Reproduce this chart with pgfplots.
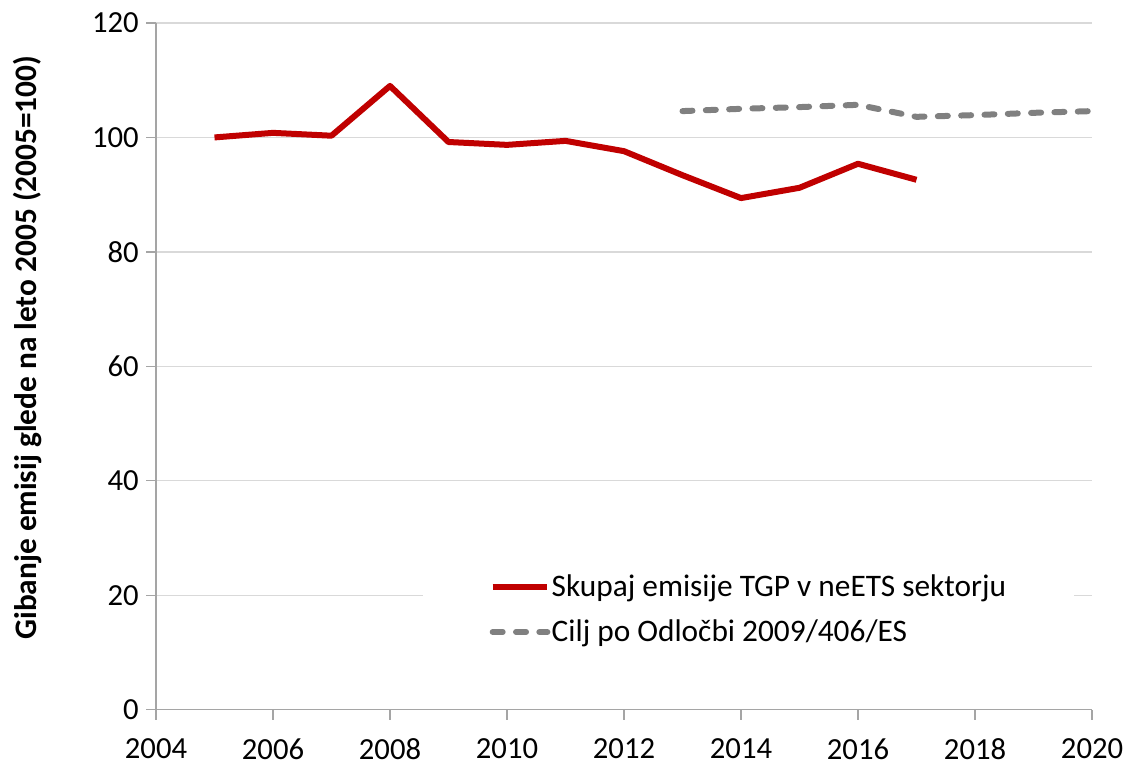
\documentclass[border=0pt]{standalone}
\usepackage{pgfplots}
\pgfplotsset{compat=1.18}
\usepackage{fontspec}
\setmainfont{Carlito}
\definecolor{redl}{RGB}{192,0,0}
\definecolor{grayl}{RGB}{128,128,128}
\definecolor{gridc}{RGB}{217,217,217}
\definecolor{axc}{RGB}{165,165,165}
\begin{document}
\begin{tikzpicture}
\begin{axis}[
  scale only axis,
  width=702pt, height=515pt,
  xmin=2004, xmax=2020, ymin=0, ymax=120,
  xtick={2004,2006,...,2020},
  ytick={0,20,...,120},
  axis x line*=bottom, axis y line*=left,
  axis line style={axc, line width=1pt},
  x axis line style={-}, y axis line style={-},
  tick style={axc, line width=1pt},
  tick align=outside,
  major tick length=7.5pt,
  ymajorgrids,
  grid style={gridc, line width=1pt},
  xticklabel style={font=\fontsize{23}{27}\selectfont, yshift=-10.5pt},
  yticklabel style={font=\fontsize{23}{27}\selectfont, xshift=-2pt},
  /pgf/number format/assume math mode=true,
  /pgf/number format/1000 sep={},
  ylabel={\textbf{Gibanje emisij glede na leto 2005 (2005=100)}},
  ylabel style={font=\fontsize{23.5}{27}\selectfont, yshift=31pt, xshift=14pt},
  legend style={at={(0.285,0.212)}, anchor=north west, fill=white, draw=none,
    font=\fontsize{23.5}{27}\selectfont, row sep=12pt, inner xsep=50pt, inner ysep=6pt,
    nodes={inner xsep=1pt}},
  legend cell align=left,
  legend image code/.code={\draw[#1] (0pt,0pt) -- (41pt,0pt);},
]
\addplot[redl, line width=4.5pt, line join=round] coordinates {
(2005,100.0) (2006,100.8) (2007,100.3) (2008,109.0) (2009,99.2) (2010,98.7)
(2011,99.4) (2012,97.6) (2013,93.4) (2014,89.4) (2015,91.2) (2016,95.4) (2017,92.6)};
\addlegendentry{Skupaj emisije TGP v neETS sektorju}
\addplot[grayl, line width=4.5pt, line cap=round, dash pattern=on 7.5pt off 10pt] coordinates {
(2013,104.6) (2014,105.0) (2015,105.3) (2016,105.7) (2017,103.6) (2018,103.9) (2019,104.3) (2020,104.6)};
\addlegendentry{Cilj po Odločbi 2009/406/ES}
\end{axis}
\pgfresetboundingbox
\path[use as bounding box] ([xshift=-117pt,yshift=-39pt]current axis.south west) rectangle ([xshift=29.25pt,yshift=17.25pt]current axis.north east);
\end{tikzpicture}
\end{document}
